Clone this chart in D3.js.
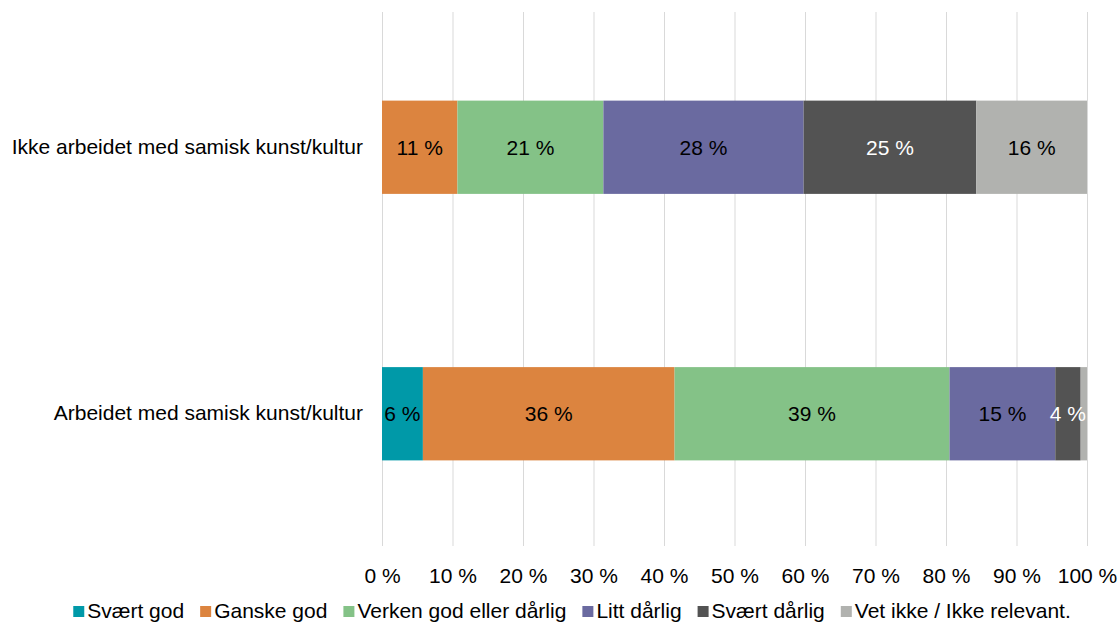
<!DOCTYPE html>
<html><head><meta charset="utf-8">
<script src="https://cdn.jsdelivr.net/npm/d3@7"></script>
<style>body{margin:0;background:#fff;font-family:"Liberation Sans",Arial,sans-serif;}</style>
</head><body><svg id="c" width="1118" height="622"></svg>
<script>
const categories = ["Ikke arbeidet med samisk kunst/kultur", "Arbeidet med samisk kunst/kultur"];
const seriesNames = ["Svært god", "Ganske god", "Verken god eller dårlig", "Litt dårlig", "Svært dårlig", "Vet ikke / Ikke relevant."];
const seriesColors = ["#0099A8", "#DC843F", "#84C287", "#6A6AA0", "#535353", "#B1B2AF"];
const labelColors = ["#000", "#000", "#000", "#000", "#fff", "#000"];
const valuesIkke = [0, 10.7, 20.7, 28.4, 24.5, 15.7];
const valuesArbeidet = [5.8, 35.7, 39.0, 15.0, 3.6, 0.9];
const tickValues = [0,10,20,30,40,50,60,70,80,90,100];

const svg = d3.select("#c");
const x = d3.scaleLinear().domain([0,100]).range([382,1087]);
const y = d3.scaleBand().domain(categories).range([14,547]).paddingInner(0.65).paddingOuter(0.325);
const font = "Liberation Sans, Arial, sans-serif";
const fs = 21;

// gridlines
svg.append("g").selectAll("line").data(tickValues).join("line")
  .attr("x1", d=>x(d)+0.5).attr("x2", d=>x(d)+0.5).attr("y1", 12).attr("y2", 546)
  .attr("stroke", "#d9d9d9").attr("stroke-width", 1);

// x axis labels
const xa = svg.append("g").attr("transform","translate(0,546)")
  .call(d3.axisBottom(x).tickValues(tickValues).tickSize(0).tickPadding(22).tickFormat(d=>d+" %"));
xa.select(".domain").remove();
xa.selectAll("text").attr("font-size",fs).attr("font-family",font).attr("fill","#000");

// y axis labels
const ya = svg.append("g").attr("transform","translate(382,0)")
  .call(d3.axisLeft(y).tickSize(0).tickPadding(19));
ya.select(".domain").remove();
ya.selectAll("text").attr("font-size",fs).attr("font-family",font).attr("fill","#000");

const rows = [valuesIkke, valuesArbeidet];
rows.forEach((vals, ri) => {
  const cat = categories[ri];
  let acc = 0;
  const segs = vals.map((v,i)=>{ const s={i, v, x0:acc, x1:acc+v}; acc+=v; return s; });
  const g = svg.append("g");
  g.selectAll("rect").data(segs.filter(s=>s.v>0)).join("rect")
    .attr("x", s=>x(s.x0)).attr("width", s=>x(s.x1)-x(s.x0))
    .attr("y", y(cat)).attr("height", y.bandwidth())
    .attr("fill", s=>seriesColors[s.i]);
  g.selectAll("text").data(segs.filter(s=>s.v>=2)).join("text")
    .attr("x", s=>(x(s.x0)+x(s.x1))/2).attr("y", y(cat)+y.bandwidth()/2)
    .attr("dy","0.35em").attr("text-anchor","middle")
    .attr("font-size",fs).attr("font-family",font)
    .attr("fill", s=>labelColors[s.i])
    .text(s=>Math.round(s.v)+" %");
});

// legend
const lg = svg.append("g");
let lx = 0;
seriesNames.forEach((n,i)=>{
  const it = lg.append("g").attr("transform",`translate(${lx},0)`);
  it.append("rect").attr("x",0).attr("y",-12).attr("width",11).attr("height",11).attr("fill",seriesColors[i]);
  const t = it.append("text").attr("x",14).attr("y",0).attr("font-size",fs).attr("font-family",font).attr("fill","#000").text(n);
  lx += 14 + t.node().getComputedTextLength() + 16;
});
const lw = lx - 16;
lg.attr("transform",`translate(${(1118-lw)/2+13},618)`);
</script></body></html>
